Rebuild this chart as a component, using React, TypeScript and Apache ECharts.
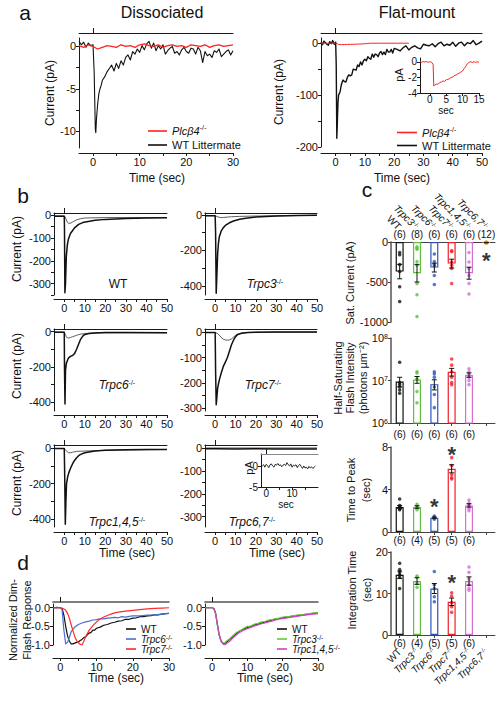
import React, { useEffect, useRef } from 'react';
import * as echarts from 'echarts';

const FONT = '"Liberation Sans", Arial, Helvetica, sans-serif';
const AX = '#1a1a1a';

// ---------- Panel a ----------
const DISS_WT: [number, number][] = [
  [-3, 0.6], [-2.5, 0.2], [-2, 0.5], [-1.5, -0.1], [-1, 0.4], [-0.5, 0.1], [0, 0.2], [0.25, -3], [0.5, -9.8], [0.6, -10.2],
  [0.75, -8.5], [1, -6.8], [1.25, -5.6], [1.5, -5.0], [1.75, -4.6], [2, -4.0], [2.5, -3.6], [3, -3.0], [3.5, -2.6], [4, -2.2],
  [4.5, -2.9], [5, -2.0], [5.5, -2.6], [6, -1.7], [6.5, -2.2], [7, -1.3], [7.5, -1.0], [8, -1.6], [8.5, -0.6], [9, -0.9],
  [9.5, -0.3], [10, -0.7], [10.5, 0.1], [11, -0.4], [11.5, 0.3], [12, 0.6], [12.5, -0.2], [13, 0.4], [13.5, -0.5], [14, 0.1],
  [14.5, -0.3], [15, 0.2], [15.5, -0.9], [16, -0.5], [16.5, -0.2], [17, 0], [17.5, -0.8], [18, -0.6], [18.5, -1.0], [19, -0.4],
  [19.5, -0.1], [20, -0.6], [20.5, -0.8], [21, -0.2], [21.5, -0.3], [22, -0.9], [22.5, -0.1], [23, -0.5], [23.5, -1.9], [24, -0.6],
  [24.5, -1.1], [25, -0.9], [25.5, -1.3], [26, -0.5], [26.5, -0.7], [27, -0.3], [27.5, -1.2], [28, -0.9], [28.5, -0.6], [29, -0.4],
  [29.5, -1.0], [30, -0.5],
];
const DISS_PLC_T0 = -3;
const DISS_PLC_DT = 1;
const DISS_PLC = [0.1, -0.1, 0.2, 0, -0.3, -0.1, 0.1, 0, -0.1, 0.2, 0, 0.1, -0.1, 0.2, 0.3, 0.1, 0, 0.2, -0.1, 0.1, 0.2, 0, 0.1, -0.1, 0.2, 0.1, 0, 0.2, -0.1, 0.1, 0.2, 0, 0.1, 0.2];

const FLAT_WT: [number, number][] = [
  [-5, 2], [-4.5, -3], [-4, 4], [-3.5, 1], [-3, -2], [-2.5, -4], [-2, 3], [-1.5, -1], [-1, 5], [-0.5, -2], [0, 2], [0.2, -40],
  [0.4, -183], [0.6, -150], [0.8, -115], [1, -100], [1.5, -94], [2, -79], [2.5, -71], [3, -74], [3.5, -75], [4, -66], [4.5, -61],
  [5, -63], [5.5, -61], [6, -50], [6.5, -51], [7, -52], [7.5, -42], [8, -45], [8.5, -36], [9, -42], [9.5, -34], [10, -31],
  [10.5, -34], [11, -26], [11.5, -29], [12, -31], [12.5, -21], [13, -27], [13.5, -21], [14, -22], [14.5, -26], [15, -19],
  [15.5, -16], [16, -22], [16.5, -17], [17, -22], [17.5, -12], [18, -17], [18.5, -17], [19, -12], [19.5, -19], [20, -10],
  [21, -12], [22, -15], [23, -9], [24, -5], [25, -13], [26, -8], [27, -5], [28, -9], [29, -11], [30, -2], [31, -4], [32, -5],
  [33, -1], [34, -7], [35, -1], [36, 2], [37, -5], [38, -2], [39, -4], [40, 2], [41, -6], [42, 0], [43, 2], [44, -5], [45, 1],
  [46, -1], [47, 5], [48, -3], [49, 0], [50, 4],
];
const FLAT_PLC: [number, number][] = [
  [-5, 0], [0, 0], [0.5, -0.5], [1, -2.5], [1.2, -3.1], [2, -2.8], [3, -2.6], [4, -2.4], [5, -2.3], [6, -2.1], [7, -1.9],
  [8, -1.6], [9, -1.4], [10, -1.1], [11, -0.5], [12, 0], [15, 0], [20, 0], [25, 0],
];
const INSET_PLC: [number, number][] = [
  [-3, 0.02], [-2.5, -0.05], [-2, 0.05], [-1.5, -0.02], [-1, 0.04], [-0.5, -0.05], [0, 0.03], [0.5, -0.04], [1, -0.3],
  [1.2, -3.1], [1.5, -3.0], [2, -2.85], [2.5, -2.9], [3, -2.65], [3.5, -2.6], [4, -2.45], [4.5, -2.5], [5, -2.3], [5.5, -2.25],
  [6, -2.15], [6.5, -2.0], [7, -1.95], [7.5, -1.75], [8, -1.7], [8.5, -1.55], [9, -1.45], [9.5, -1.3], [10, -1.15],
  [10.5, -0.85], [11, -0.55], [11.5, -0.2], [12, -0.05], [12.5, 0.02], [13, -0.08], [13.5, 0.03], [14, -0.06], [14.5, 0.02], [15, -0.05],
];

// ---------- Panel b ----------
const WT_SAT: [number, number][] = [[-5, -4], [0, -4], [0.1, -60], [0.3, -340], [0.6, -300], [1, -180], [1.5, -130], [2, -105], [3, -80], [4, -68], [5, -55], [7, -40], [9, -32], [11, -28], [15, -22], [20, -18], [30, -14], [40, -12], [50, -11]];
const WT_DIM: [number, number][] = [[-5, -3], [0, -3], [0.5, -8], [1, -20], [1.5, -30], [2, -35], [3, -35], [4, -30], [5, -25], [6, -20], [8, -15], [10, -12], [15, -11], [20, -10], [30, -10], [50, -10]];
const TRPC3_SAT: [number, number][] = [[-5, -5], [0, -5], [0.2, -100], [0.5, -440], [0.8, -350], [1.2, -220], [1.6, -160], [2, -125], [3, -90], [4, -72], [5, -60], [7, -45], [9, -35], [12, -25], [15, -19], [20, -13], [25, -9], [30, -7], [40, -4], [50, -3]];
const TRPC3_DIM: [number, number][] = [[-5, -5], [0, -5], [1, -10], [2, -14], [3, -16], [4, -15], [6, -13], [8, -11], [12, -9], [20, -7], [50, -3]];
const TRPC6_SAT: [number, number][] = [[-5, -3], [0, -3], [0.1, -200], [0.35, -410], [0.6, -220], [1, -180], [1.5, -165], [2, -150], [3, -140], [4, -135], [5, -125], [6, -100], [7, -70], [8, -42], [9, -25], [10, -16], [12, -10], [15, -7], [20, -5], [30, -5], [50, -6]];
const TRPC6_DIM: [number, number][] = [[-5, -3], [0, -3], [0.5, -15], [1, -30], [1.5, -36], [2, -37], [3, -33], [4, -29], [5, -25], [6, -21], [7, -17], [8, -14], [10, -11], [15, -7], [50, -6]];
const TRPC7_SAT: [number, number][] = [[-5, -2], [0, -2], [0.2, -150], [0.5, -285], [0.8, -260], [1.2, -220], [1.7, -200], [2.3, -180], [3, -160], [4, -135], [5, -118], [6, -100], [7, -75], [8, -50], [9, -32], [10, -18], [11, -10], [13, -5], [16, -2], [20, -1], [30, 0], [50, 0]];
const TRPC7_DIM: [number, number][] = [[-5, -2], [0, -2], [1, -5], [2, -12], [3, -22], [4, -28], [5, -31], [6, -32], [7, -31], [8, -27], [9, -20], [10, -13], [11, -8], [13, -4], [16, -2], [20, -1], [50, 0]];
const TRPC145_SAT: [number, number][] = [[-5, -3], [0, -3], [0.2, -150], [0.5, -430], [0.8, -300], [1.1, -200], [1.6, -165], [2.2, -140], [3, -115], [4, -90], [5, -70], [6, -55], [7, -43], [8, -36], [10, -27], [12, -22], [15, -17], [20, -13], [30, -10], [40, -9], [50, -8]];
const TRPC145_DIM: [number, number][] = [[-5, -3], [0, -3], [0.5, -8], [1, -16], [1.5, -22], [2, -26], [3, -27], [4, -24], [5, -21], [6, -19], [8, -18], [10, -17], [15, -15], [20, -13], [50, -8]];
const TRPC67_SAT: [number, number][] = [[-5, -3], [0, -3], [10, -4], [20, -3], [30, -5], [40, -4], [50, -4]];
const TRPC67_DIM: [number, number][] = [[-5, 0], [50, 0]];
const TRPC67_INSET_T0 = -2;
const TRPC67_INSET_DT = 0.5;
const TRPC67_INSET = [0.3, 0.1, 0.4, -0.2, 0.5, 0.2, -0.3, 0.4, 0.6, 0.1, -0.2, 0.5, 0.3, 0.7, 0.2, 0.4, -0.1, 0.3, 0.5, 0.2, 0.9, 0.4, 0.1, 0.6, -0.2, 0.3, 0.1, 0.4, -0.3, 0.2, 0.5, 0.0, -0.5, 0.1, -0.4, -0.2, -0.6, 0.0, -0.4, -0.1, -0.5, -0.2, 0.1];

// ---------- Panel c ----------
const GENO = ['WT', 'Trpc3', 'Trpc6', 'Trpc7', 'Trpc1,4,5', 'Trpc6,7'];
const GENO_COLORS = ['#111111', '#5fbf3f', '#2f55c0', '#f0202a', '#d46fd4', '#f5a030'];

const SAT_MEAN = [-370, -390, -320, -270, -390, -8];
const SAT_SEM = [90, 110, 55, 55, 75, 3];
const SAT_N = [6, 8, 6, 6, 6, 12];
const SAT_DOTS = [
  [-130, -160, -280, -370, -560, -745],
  [-60, -75, -90, -245, -290, -520, -660, -930],
  [-150, -245, -280, -300, -420, -530],
  [-110, -120, -250, -290, -330, -520],
  [-130, -250, -330, -420, -520, -650],
  [-2, -4, -5, -6, -8, -3, -10, -7, -5, -9, -12, -6],
];
const SAT_STARS: [number, number][] = [[5, -160]];

const HALF_MEAN = [9.5e6, 1.05e7, 8.2e6, 1.6e7, 1.35e7, null];
const HALF_SEM = [2.4e6, 1.9e6, 2.2e6, 3.3e6, 1.6e6, null];
const HALF_N = [6, 6, 6, 6, 6, null];
const HALF_DOTS = [
  [2.7e7, 9e6, 8e6, 7e6, 6e6, 5e6],
  [1.6e7, 1.5e7, 1.1e7, 1.05e7, 5.5e6, 3e6],
  [1.6e7, 1.45e7, 1.2e7, 7e6, 4.7e6, 2.3e6],
  [3.2e7, 2.3e7, 1.6e7, 1.2e7, 9e6, 8e6],
  [1.9e7, 1.6e7, 1.4e7, 1.2e7, 1e7, 8e6],
  [],
];

const TTP_MEAN = [2.35, 2.35, 1.35, 5.95, 2.5, null];
const TTP_SEM = [0.15, 0.12, 0.06, 0.38, 0.16, null];
const TTP_N = [6, 4, 5, 5, 6, null];
const TTP_DOTS = [
  [3.1, 2.5, 2.4, 2.3, 2.2, 2.1],
  [2.6, 2.4, 2.3, 2.1],
  [1.5, 1.4, 1.35, 1.3, 1.2],
  [7.0, 6.25, 5.4, 5.1, 5.0],
  [3.0, 2.7, 2.6, 2.5, 2.2, 2.0],
  [],
];
const TTP_STARS: [number, number][] = [[2, 3.0], [3, 7.9]];

const INT_MEAN = [14.5, 13.0, 11.2, 8.0, 13.0, null];
const INT_SEM = [0.9, 0.8, 1.2, 0.9, 1.0, null];
const INT_N = [6, 4, 5, 5, 6, null];
const INT_DOTS = [
  [17.3, 15.8, 15.2, 14.6, 13.9, 11.2],
  [14.2, 14.0, 12.5, 11.5],
  [15.3, 12.1, 11.2, 9.2, 8.0],
  [10.2, 9.4, 7.8, 6.8, 5.5],
  [16.4, 15.1, 13.5, 12.1, 11.2, 10.8],
  [],
];
const INT_STARS: [number, number][] = [[3, 14.1]];

// ---------- Panel d ----------
const D_WT_L: [number, number][] = [[-2, 0], [-1, 0.01], [0, 0], [0.5, -0.02], [1, -0.2], [1.5, -0.5], [2, -0.75], [2.5, -0.9], [3, -0.97], [3.5, -0.97], [4, -0.95], [4.5, -0.93], [5, -0.92], [5.5, -0.88], [6, -0.85], [6.5, -0.8], [7, -0.78], [7.5, -0.72], [8, -0.68], [8.5, -0.66], [9, -0.6], [9.5, -0.6], [10, -0.55], [11, -0.52], [12, -0.47], [13, -0.45], [14, -0.41], [15, -0.39], [16, -0.36], [17, -0.35], [18, -0.31], [19, -0.31], [20, -0.28], [21, -0.27], [22, -0.24], [23, -0.24], [24, -0.22], [25, -0.21], [26, -0.19], [27, -0.19], [28, -0.17], [29, -0.16], [30, -0.15]];
const D_TRPC6: [number, number][] = [[-2, 0], [0, 0], [0.5, -0.05], [1, -0.6], [1.5, -0.97], [2, -0.93], [2.5, -0.8], [3, -0.65], [3.5, -0.58], [4, -0.52], [5, -0.45], [6, -0.41], [7, -0.38], [8, -0.36], [9, -0.33], [10, -0.32], [11, -0.3], [12, -0.3], [13, -0.28], [14, -0.27], [15, -0.26], [16, -0.27], [17, -0.24], [18, -0.25], [19, -0.23], [20, -0.22], [22, -0.22], [24, -0.2], [26, -0.19], [28, -0.17], [30, -0.15]];
const D_TRPC7: [number, number][] = [[-2, 0], [0, 0], [1, -0.03], [1.5, -0.07], [2, -0.15], [2.5, -0.28], [3, -0.45], [3.5, -0.62], [4, -0.77], [4.5, -0.88], [5, -0.94], [5.5, -0.98], [6, -1.0], [6.5, -0.9], [7, -0.78], [8, -0.6], [9, -0.48], [10, -0.38], [11, -0.3], [12, -0.25], [13, -0.21], [14, -0.17], [15, -0.14], [16, -0.12], [18, -0.09], [20, -0.07], [22, -0.05], [24, -0.03], [26, -0.02], [28, -0.01], [30, 0]];
const D_WT_R: [number, number][] = [[-2, 0], [0, 0], [0.5, -0.02], [1, -0.15], [1.5, -0.45], [2, -0.72], [2.5, -0.88], [3, -0.95], [3.5, -0.97], [4, -0.93], [5, -0.85], [6, -0.77], [7, -0.68], [8, -0.62], [9, -0.57], [10, -0.53], [11, -0.5], [12, -0.46], [13, -0.44], [14, -0.41], [15, -0.38], [16, -0.36], [17, -0.33], [18, -0.31], [19, -0.29], [20, -0.27], [22, -0.24], [24, -0.21], [26, -0.19], [28, -0.16], [30, -0.14]];
const D_TRPC3: [number, number][] = [[-2, 0], [0, 0], [0.5, -0.03], [1, -0.17], [1.5, -0.47], [2, -0.74], [2.5, -0.9], [3, -0.94], [3.5, -0.95], [4, -0.9], [5, -0.83], [6, -0.74], [7, -0.66], [8, -0.61], [9, -0.55], [10, -0.5], [11, -0.49], [12, -0.44], [13, -0.42], [14, -0.38], [15, -0.37], [16, -0.33], [17, -0.32], [18, -0.29], [19, -0.28], [20, -0.25], [22, -0.23], [24, -0.2], [26, -0.18], [28, -0.15], [30, -0.13]];
const D_TRPC145: [number, number][] = [[-2, 0], [0, 0], [0.5, -0.02], [1, -0.14], [1.5, -0.43], [2, -0.71], [2.5, -0.88], [3, -0.96], [3.5, -1.0], [4, -0.97], [5, -0.9], [6, -0.8], [7, -0.72], [8, -0.65], [9, -0.6], [10, -0.56], [11, -0.53], [12, -0.49], [13, -0.46], [14, -0.43], [15, -0.41], [16, -0.38], [17, -0.36], [18, -0.33], [19, -0.31], [20, -0.29], [22, -0.26], [24, -0.23], [26, -0.2], [28, -0.18], [30, -0.16]];

const TRACE_COLORS = { WT: '#111111', Plc: '#ff2020', Trpc6: '#4a6fd0', Trpc7: '#ff2a2a', Trpc3: '#5fcc30', Trpc145: '#d040c8' };

// ---------- builders ----------
function sampled(t0: number, dt: number, vals: number[]): [number, number][] {
  return vals.map((v, i) => [t0 + i * dt, v]);
}

const genoRich = {
  n: { fontSize: 10, fontFamily: FONT, color: '#111' },
  i: { fontSize: 10, fontFamily: FONT, color: '#111', fontStyle: 'italic' },
  s: { fontSize: 6, fontFamily: FONT, color: '#111', verticalAlign: 'top' },
};
const genoFmt = (v: string) => (v === 'WT' ? '{n|WT}' : `{i|${v}}{s|-/-}`);

function buildOption() {
  const grids: any[] = [];
  const xAxes: any[] = [];
  const yAxes: any[] = [];
  const series: any[] = [];

  const addGrid = (left: number, top: number, width: number, height: number) => {
    grids.push({ left, top, width, height, containLabel: false, outerBoundsMode: 'none' });
    return grids.length - 1;
  };
  const linX = (g: number, min: number, max: number, labels: number[], ticks: number[], offset: number, fontSize = 11, margin = 3) => {
    xAxes.push({
      type: 'value', gridIndex: g, min, max, position: 'bottom', offset,
      splitLine: { show: false },
      axisLine: { show: true, onZero: false, lineStyle: { color: AX, width: 1 } },
      axisTick: { show: true, customValues: ticks, length: 3, lineStyle: { color: AX } },
      axisLabel: { show: true, customValues: labels, fontSize, color: '#111', margin, fontFamily: FONT },
    });
    return xAxes.length - 1;
  };
  const stim = (g: number, min: number, max: number, offset: number, color = AX, width = 1) => {
    xAxes.push({
      type: 'value', gridIndex: g, min, max, position: 'top', offset,
      splitLine: { show: false },
      axisLine: { show: true, onZero: false, lineStyle: { color, width } },
      axisTick: { show: true, customValues: [0], length: 5, inside: false, lineStyle: { color: AX, width: 1 } },
      axisLabel: { show: false },
    });
  };
  const linY = (g: number, min: number, max: number, labels: number[], ticks: number[], fontSize = 11, fmt?: (v: number) => string) => {
    yAxes.push({
      type: 'value', gridIndex: g, min, max,
      splitLine: { show: false },
      axisLine: { show: true, onZero: false, lineStyle: { color: AX, width: 1 } },
      axisTick: { show: true, customValues: ticks, length: 3, lineStyle: { color: AX } },
      axisLabel: { show: true, customValues: labels, fontSize, color: '#111', margin: 3, fontFamily: FONT, formatter: fmt || ((v: number) => String(v)) },
    });
    return yAxes.length - 1;
  };
  const line = (name: string | undefined, xi: number, yi: number, data: [number, number][], color: string, width: number) => {
    series.push({
      type: 'line', name, xAxisIndex: xi, yAxisIndex: yi, data, showSymbol: false, symbol: 'none',
      color, lineStyle: { color, width, join: 'round' }, itemStyle: { color }, clip: true, silent: true,
    });
  };

  // ----- Panel a -----
  const g0 = addGrid(79, 38, 154, 110);
  const xa0 = linX(g0, -3, 30, [0, 10, 20, 30], [0, 5, 10, 15, 20, 25, 30], 5);
  stim(g0, -3, 30, 5);
  const ya0 = linY(g0, -12, 1, [0, -5, -10], [0, -2.5, -5, -7.5, -10]);
  line('WT Littermate', xa0, ya0, DISS_WT, TRACE_COLORS.WT, 1.1);
  line('Plcβ4', xa0, ya0, sampled(DISS_PLC_T0, DISS_PLC_DT, DISS_PLC), TRACE_COLORS.Plc, 1.3);

  const g1 = addGrid(321, 38, 161, 109);
  const xa1 = linX(g1, -5, 50, [0, 10, 20, 30, 40, 50], [0, 5, 10, 15, 20, 25, 30, 35, 40, 45, 50], 6);
  stim(g1, -5, 50, 5);
  const ya1 = linY(g1, -200, 10, [0, -100, -200], [0, -50, -100, -150, -200]);
  line('WT Littermate', xa1, ya1, FLAT_WT, TRACE_COLORS.WT, 1.4);
  line('Plcβ4', xa1, ya1, FLAT_PLC, TRACE_COLORS.Plc, 1);

  const g2 = addGrid(420, 58, 59, 35);
  const xa2 = linX(g2, -3, 15, [0, 5, 10, 15], [0, 5, 10, 15], 0, 10, 1);
  const ya2 = linY(g2, -4, 0.5, [0, -2, -4], [0, -1, -2, -3, -4], 10);
  line(undefined, xa2, ya2, INSET_PLC, TRACE_COLORS.Plc, 1);

  // ----- Panel b -----
  const bPanels: { left: number; top: number; width: number; min: number; max: number; labels: number[]; ticks: number[]; sat: [number, number][]; dim: [number, number][]; xoff: number }[] = [
    { left: 54, top: 213, width: 113, min: -350, max: 10, labels: [0, -100, -200, -300], ticks: [0, -50, -100, -150, -200, -250, -300, -350], sat: WT_SAT, dim: WT_DIM, xoff: 4 },
    { left: 205, top: 213, width: 112, min: -450, max: 10, labels: [0, -200, -400], ticks: [0, -100, -200, -300, -400], sat: TRPC3_SAT, dim: TRPC3_DIM, xoff: 4 },
    { left: 54, top: 329, width: 113, min: -450, max: 15, labels: [0, -200, -400], ticks: [0, -100, -200, -300, -400], sat: TRPC6_SAT, dim: TRPC6_DIM, xoff: 4 },
    { left: 205, top: 329, width: 112, min: -310, max: 12, labels: [0, -100, -200, -300], ticks: [0, -50, -100, -150, -200, -250, -300], sat: TRPC7_SAT, dim: TRPC7_DIM, xoff: 4 },
    { left: 54, top: 445, width: 113, min: -445, max: 17, labels: [0, -200, -400], ticks: [0, -100, -200, -300, -400], sat: TRPC145_SAT, dim: TRPC145_DIM, xoff: 5 },
    { left: 205, top: 445, width: 112, min: -345, max: 13, labels: [0, -100, -200, -300], ticks: [0, -50, -100, -150, -200, -250, -300], sat: TRPC67_SAT, dim: TRPC67_DIM, xoff: 5 },
  ];
  bPanels.forEach((p) => {
    const g = addGrid(p.left, p.top, p.width, 82);
    const xi = linX(g, -5, 50, [0, 10, 20, 30, 40, 50], [0, 5, 10, 15, 20, 25, 30, 35, 40, 45, 50], p.xoff);
    stim(g, -5, 50, 0);
    const yi = linY(g, p.min, p.max, p.labels, p.ticks);
    line(undefined, xi, yi, p.dim, '#333', 0.8);
    line(undefined, xi, yi, p.sat, '#111', 1.5);
  });
  const g9 = addGrid(261, 454, 57, 33);
  const xa9 = linX(g9, -2, 20, [0, 10], [0, 5, 10, 15], 0, 10, 1);
  stim(g9, -2, 20, 0, '#888', 1.2);
  const ya9 = linY(g9, -5, 3, [0, -5], [0, -5], 10);
  line(undefined, xa9, ya9, sampled(TRPC67_INSET_T0, TRPC67_INSET_DT, TRPC67_INSET), '#111', 0.9);

  // ----- Panel c -----
  const catAxis = (g: number, position: string, offset: number, formatter: any, extra: any = {}) => {
    xAxes.push({
      type: 'category', gridIndex: g, data: GENO, position, offset, boundaryGap: true,
      axisLine: { show: extra.line !== false, onZero: false, lineStyle: { color: '#444', width: 1 } },
      axisTick: { show: !!extra.ticks, alignWithLabel: true, length: 3, lineStyle: { color: '#444' } },
      axisLabel: { show: true, interval: 0, formatter, rotate: extra.rotate || 0, margin: extra.margin ?? 3, fontSize: 10, color: '#111', fontFamily: FONT, rich: genoRich },
      splitLine: { show: false },
    });
    return xAxes.length - 1;
  };
  const cY = (g: number, axis: any) => {
    yAxes.push({
      gridIndex: g, splitLine: { show: false },
      axisLine: { show: true, onZero: false, lineStyle: { color: '#555', width: 1.5 } },
      axisTick: { show: true, length: 3, lineStyle: { color: '#444' } },
      ...axis,
      axisLabel: { fontSize: 11, color: '#111', margin: 3, fontFamily: FONT, formatter: (v: number) => String(v), ...(axis.axisLabel || {}) },
    });
    return yAxes.length - 1;
  };
  const cSeries = (xi: number, yi: number, mean: (number | null)[], sem: (number | null)[], dots: number[][], stars: [number, number][]) => {
    series.push({
      type: 'bar', xAxisIndex: xi, yAxisIndex: yi, barWidth: 8, clip: true, silent: true,
      data: mean.map((m, i) => (m == null ? '-' : {
        value: m,
        itemStyle: { color: i === 5 ? GENO_COLORS[i] : 'rgba(255,255,255,0)', borderColor: GENO_COLORS[i], borderWidth: 1.2 },
      })),
    });
    series.push({
      type: 'scatter', xAxisIndex: xi, yAxisIndex: yi, symbolSize: 3.5, silent: true, z: 3,
      data: dots.flatMap((arr, i) => arr.map((v) => ({ value: [i, v], itemStyle: { color: GENO_COLORS[i] } }))),
    });
    const errData: number[][] = [];
    mean.forEach((m, i) => {
      const s = sem[i];
      if (m != null && s != null) errData.push([i, m - s, m + s]);
    });
    series.push({
      type: 'custom', xAxisIndex: xi, yAxisIndex: yi, silent: true, z: 4,
      data: errData,
      renderItem: (params: any, api: any) => {
        const i = api.value(0);
        const lo = api.coord([i, api.value(1)]);
        const hi = api.coord([i, api.value(2)]);
        const w = 2.5;
        const st = { stroke: '#111', lineWidth: 1 };
        return {
          type: 'group',
          children: [
            { type: 'line', shape: { x1: lo[0], y1: lo[1], x2: hi[0], y2: hi[1] }, style: st },
            { type: 'line', shape: { x1: lo[0] - w, y1: lo[1], x2: lo[0] + w, y2: lo[1] }, style: st },
            { type: 'line', shape: { x1: hi[0] - w, y1: hi[1], x2: hi[0] + w, y2: hi[1] }, style: st },
          ],
        };
      },
    });
    if (stars.length) {
      series.push({
        type: 'scatter', xAxisIndex: xi, yAxisIndex: yi, silent: true, z: 6, symbolSize: 1,
        itemStyle: { color: 'rgba(0,0,0,0)' },
        data: stars,
        label: { show: true, formatter: '*', position: 'inside', fontSize: 22, fontWeight: 'bold', color: '#000', fontFamily: FONT, offset: [0, 6] },
      });
    }
  };
  const nFmt = (arr: (number | null)[]) => (_v: string, i: number) => (arr[i] == null ? '' : `(${arr[i]})`);

  const g10 = addGrid(391, 242, 104, 80);
  const x10 = catAxis(g10, 'top', 0, nFmt(SAT_N), { margin: 3 });
  catAxis(g10, 'top', 12, genoFmt, { line: false, rotate: 45, margin: 2 });
  const y10 = cY(g10, { type: 'value', min: -1000, max: 0, interval: 500 });
  cSeries(x10, y10, SAT_MEAN, SAT_SEM, SAT_DOTS, SAT_STARS);

  const g11 = addGrid(391, 338, 104, 85);
  const x11 = catAxis(g11, 'bottom', 0, nFmt(HALF_N), { ticks: true, margin: 6 });
  const y11 = cY(g11, {
    type: 'log', logBase: 10, min: 1e6, max: 1e8,
    axisLabel: {
      formatter: (v: number) => `{b|10}{e|${Math.round(Math.log10(v))}}`,
      rich: { b: { fontSize: 11, fontFamily: FONT, color: '#111' }, e: { fontSize: 7, fontFamily: FONT, color: '#111', verticalAlign: 'top' } },
    },
  });
  cSeries(x11, y11, HALF_MEAN, HALF_SEM, HALF_DOTS, []);

  const g12 = addGrid(391, 447, 104, 85);
  const x12 = catAxis(g12, 'bottom', 0, nFmt(TTP_N), { ticks: true, margin: 3 });
  const y12 = cY(g12, { type: 'value', min: 0, max: 8, interval: 4 });
  cSeries(x12, y12, TTP_MEAN, TTP_SEM, TTP_DOTS, TTP_STARS);

  const g13 = addGrid(391, 552, 104, 83);
  const x13 = catAxis(g13, 'bottom', 0, nFmt(INT_N), { ticks: true, margin: 3 });
  catAxis(g13, 'bottom', 13, genoFmt, { line: false, rotate: 45, margin: 2 });
  const y13 = cY(g13, { type: 'value', min: 0, max: 20, interval: 10 });
  cSeries(x13, y13, INT_MEAN, INT_SEM, INT_DOTS, INT_STARS);

  // ----- Panel d -----
  const dFmt = (v: number) => v.toFixed(1);
  const g14 = addGrid(53, 604, 116, 41);
  const x14 = linX(g14, -2, 30, [0, 10, 20, 30], [0, 5, 10, 15, 20, 25, 30], 13);
  stim(g14, -2, 30, 2, '#555', 1.5);
  const y14 = linY(g14, -1, 0.1, [0, -0.5, -1], [0, -0.5, -1], 11, dFmt);
  line('WT', x14, y14, D_WT_L, TRACE_COLORS.WT, 1.2);
  line('Trpc6', x14, y14, D_TRPC6, TRACE_COLORS.Trpc6, 1.2);
  line('Trpc7', x14, y14, D_TRPC7, TRACE_COLORS.Trpc7, 1.2);

  const g15 = addGrid(205, 604, 113, 41);
  const x15 = linX(g15, -2, 30, [0, 10, 20, 30], [0, 5, 10, 15, 20, 25, 30], 13);
  stim(g15, -2, 30, 2, '#555', 1.5);
  const y15 = linY(g15, -1, 0.1, [0, -0.5, -1], [0, -0.5, -1], 11, dFmt);
  line('WT', x15, y15, D_WT_R, TRACE_COLORS.WT, 1.2);
  line('Trpc3', x15, y15, D_TRPC3, TRACE_COLORS.Trpc3, 1.2);
  line('Trpc1,4,5', x15, y15, D_TRPC145, TRACE_COLORS.Trpc145, 1.2);

  // ----- legends -----
  const legRich = (fs: number, lh: number) => ({
    n: { fontSize: fs, fontFamily: FONT, color: '#111', lineHeight: lh },
    i: { fontSize: fs, fontFamily: FONT, color: '#111', fontStyle: 'italic', lineHeight: lh },
    s: { fontSize: 7, fontFamily: FONT, color: '#111', verticalAlign: 'top', lineHeight: 7 },
  });
  const legFmt = (name: string) => (name.startsWith('Plc') || name.startsWith('Trpc') ? `{i|${name}}{s|-/-}` : `{n|${name}}`);
  const mkLegend = (left: number, top: number, data: string[], itemWidth: number, fs: number, lh: number) => ({
    left, top, orient: 'vertical', data, padding: 0, itemGap: 0, itemWidth, itemHeight: 1.6, icon: 'rect',
    selectedMode: false, formatter: legFmt,
    textStyle: { fontSize: fs, fontFamily: FONT, color: '#111', lineHeight: lh, rich: legRich(fs, lh) },
  });
  const legends = [
    mkLegend(148, 124, ['Plcβ4', 'WT Littermate'], 19, 11, 14),
    mkLegend(397, 126, ['Plcβ4', 'WT Littermate'], 20, 11, 13),
    mkLegend(126, 624, ['WT', 'Trpc6', 'Trpc7'], 10, 10, 9.5),
    mkLegend(277, 624, ['WT', 'Trpc3', 'Trpc1,4,5'], 10, 10, 9.5),
  ];

  // ----- texts -----
  const txt = (x: number, y: number, text: string, fontSize: number, o: any = {}) => ({
    type: 'text', x, y, rotation: o.rot || 0, silent: true, z: 10,
    style: {
      text, fontSize, fontFamily: FONT, fill: '#111', align: o.align || 'center', verticalAlign: 'middle',
      lineHeight: o.lh, rich: o.rich,
    },
  });
  const gRich = (fs: number) => ({
    n: { fontSize: fs, fontFamily: FONT, fill: '#111' },
    i: { fontSize: fs, fontFamily: FONT, fill: '#111', fontStyle: 'italic' },
    s: { fontSize: 7, fontFamily: FONT, fill: '#111', verticalAlign: 'top' },
  });
  const R = Math.PI / 2;
  const graphic = [
    txt(25, 12, 'a', 21),
    txt(162, 12, 'Dissociated', 16),
    txt(417, 12, 'Flat-mount', 16),
    txt(50, 93, 'Current (pA)', 12, { rot: R }),
    txt(279, 92, 'Current (pA)', 12, { rot: R }),
    txt(157, 178, 'Time (sec)', 12),
    txt(402, 178, 'Time (sec)', 12),
    txt(399, 75, 'pA', 11, { rot: R }),
    txt(446, 110, 'sec', 10),
    txt(23, 195, 'b', 21),
    txt(17, 249, 'Current (pA)', 12, { rot: R }),
    txt(17, 366, 'Current (pA)', 12, { rot: R }),
    txt(17, 483, 'Current (pA)', 12, { rot: R }),
    txt(118, 284, '{n|WT}', 12, { rich: gRich(12) }),
    txt(265, 284, '{i|Trpc3}{s|-/-}', 12, { rich: gRich(12) }),
    txt(117, 385, '{i|Trpc6}{s|-/-}', 12, { rich: gRich(12) }),
    txt(263, 385, '{i|Trpc7}{s|-/-}', 12, { rich: gRich(12) }),
    txt(117, 522, '{i|Trpc1,4,5}{s|-/-}', 12, { rich: gRich(12) }),
    txt(252, 522, '{i|Trpc6,7}{s|-/-}', 12, { rich: gRich(12) }),
    txt(249, 468, 'pA', 11, { rot: R }),
    txt(286, 504, 'sec', 10),
    txt(127, 553, 'Time (sec)', 12),
    txt(277, 553, 'Time (sec)', 12),
    txt(367, 189, 'c', 21),
    txt(350, 283, 'Sat. Current (pA)', 11, { rot: R }),
    txt(350, 378, 'Half-Saturating\nFlash Intensity\n(photons µm⁻²)', 11, { rot: R, lh: 12.5 }),
    txt(358, 490, 'Time to Peak\n(sec)', 11, { rot: R, lh: 15 }),
    txt(359, 590, 'Integration Time\n(sec)', 11, { rot: R, lh: 15 }),
    txt(23, 562, 'd', 21),
    txt(20, 620, 'Normalized Dim-\nFlash Response', 11, { rot: R, lh: 14 }),
    txt(116, 678, 'Time (sec)', 12),
    txt(265, 678, 'Time (sec)', 12),
  ];

  return {
    animation: false,
    backgroundColor: '#ffffff',
    textStyle: { fontFamily: FONT },
    grid: grids,
    xAxis: xAxes,
    yAxis: yAxes,
    legend: legends,
    series,
    graphic,
  };
}

export default function App() {
  const ref = useRef<HTMLDivElement>(null);
  useEffect(() => {
    document.body.style.margin = '0';
    const chart = echarts.init(ref.current as HTMLDivElement, null, { renderer: 'svg' });
    chart.setOption(buildOption() as any);
    return () => chart.dispose();
  }, []);
  return <div ref={ref} style={{ width: 503, height: 701 }} />;
}
